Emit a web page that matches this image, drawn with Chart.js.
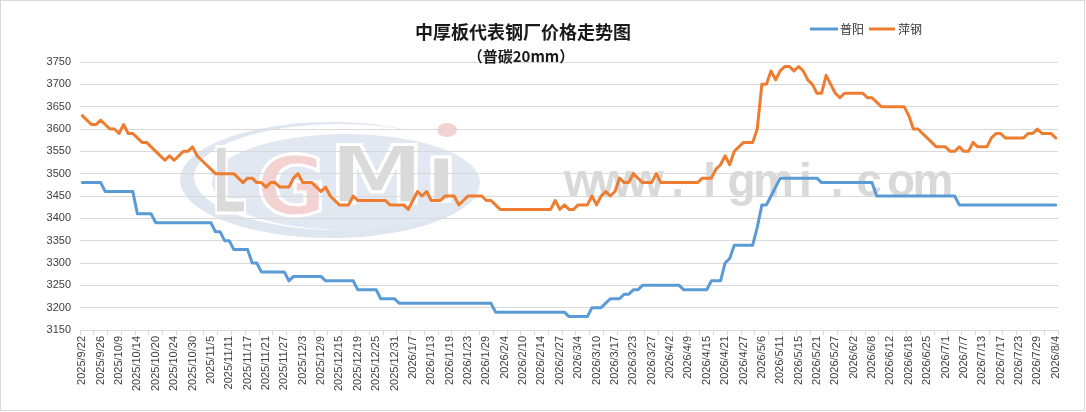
<!DOCTYPE html>
<html>
<head>
<meta charset="utf-8">
<script src="https://cdn.jsdelivr.net/npm/chart.js@4.4.1/dist/chart.umd.min.js"></script>
<style>
html,body{margin:0;padding:0;background:#fff;overflow:hidden}
#wrap{width:1086px;height:412px;position:relative}
</style>
</head>
<body>
<div id="wrap"><canvas id="c"></canvas></div>
<script>
const chartTitle = '中厚板代表钢厂价格走势图';
const chartSubtitle = '（普碳20mm）';
const seriesNames = ['普阳', '萍钢'];
const watermarkText = 'www.lgmi.com';

const tickDates = ['2025/9/22','2025/9/26','2025/10/9','2025/10/14','2025/10/20','2025/10/24','2025/10/30',
  '2025/11/5','2025/11/11','2025/11/17','2025/11/21','2025/11/27','2025/12/3','2025/12/9','2025/12/15',
  '2025/12/19','2025/12/25','2025/12/31','2026/1/7','2026/1/13','2026/1/19','2026/1/23','2026/1/29',
  '2026/2/4','2026/2/10','2026/2/14','2026/2/27','2026/3/4','2026/3/10','2026/3/17','2026/3/23','2026/3/27',
  '2026/4/2','2026/4/9','2026/4/15','2026/4/21','2026/4/27','2026/5/6','2026/5/11','2026/5/15','2026/5/21',
  '2026/5/27','2026/6/2','2026/6/8','2026/6/12','2026/6/18','2026/6/25','2026/7/1','2026/7/7','2026/7/13',
  '2026/7/17','2026/7/23','2026/7/29','2026/8/4'];
const pointsPerLabel = 4;

const puyang = [
  3480,3480,3480,3480,3480,3460,3460,3460,3460,3460,
  3460,3460,3410,3410,3410,3410,3390,3390,3390,3390,
  3390,3390,3390,3390,3390,3390,3390,3390,3390,3370,
  3370,3350,3350,3330,3330,3330,3330,3300,3300,3280,
  3280,3280,3280,3280,3280,3260,3270,3270,3270,3270,
  3270,3270,3270,3260,3260,3260,3260,3260,3260,3260,
  3240,3240,3240,3240,3240,3220,3220,3220,3220,3210,
  3210,3210,3210,3210,3210,3210,3210,3210,3210,3210,
  3210,3210,3210,3210,3210,3210,3210,3210,3210,3210,
  3190,3190,3190,3190,3190,3190,3190,3190,3190,3190,
  3190,3190,3190,3190,3190,3190,3180,3180,3180,3180,
  3180,3200,3200,3200,3210,3220,3220,3220,3230,3230,
  3240,3240,3250,3250,3250,3250,3250,3250,3250,3250,
  3250,3240,3240,3240,3240,3240,3240,3260,3260,3260,
  3300,3310,3340,3340,3340,3340,3340,3380,3430,3430,
  3450,3470,3490,3490,3490,3490,3490,3490,3490,3490,
  3490,3480,3480,3480,3480,3480,3480,3480,3480,3480,
  3480,3480,3480,3450,3450,3450,3450,3450,3450,3450,
  3450,3450,3450,3450,3450,3450,3450,3450,3450,3450,
  3450,3430,3430,3430,3430,3430,3430,3430,3430,3430,
  3430,3430,3430,3430,3430,3430,3430,3430,3430,3430,
  3430,3430,3430
];

const pinggang = [
  3630,3620,3610,3610,3620,3610,3600,3600,3590,3610,
  3590,3590,3580,3570,3570,3560,3550,3540,3530,3540,
  3530,3540,3550,3550,3560,3540,3530,3520,3510,3500,
  3500,3500,3500,3500,3490,3480,3490,3490,3480,3480,
  3470,3480,3480,3470,3470,3470,3490,3500,3480,3480,
  3480,3470,3460,3470,3450,3440,3430,3430,3430,3450,
  3440,3440,3440,3440,3440,3440,3440,3430,3430,3430,
  3430,3420,3440,3460,3450,3460,3440,3440,3440,3450,
  3450,3450,3430,3440,3450,3450,3450,3450,3440,3440,
  3430,3420,3420,3420,3420,3420,3420,3420,3420,3420,
  3420,3420,3420,3440,3420,3430,3420,3420,3430,3430,
  3430,3450,3430,3450,3460,3450,3460,3490,3480,3480,
  3500,3490,3480,3480,3480,3500,3480,3480,3480,3480,
  3480,3480,3480,3480,3480,3490,3490,3490,3510,3520,
  3540,3520,3550,3560,3570,3570,3570,3600,3700,3700,
  3730,3710,3730,3740,3740,3730,3740,3730,3710,3700,
  3680,3680,3720,3700,3680,3670,3680,3680,3680,3680,
  3680,3670,3670,3660,3650,3650,3650,3650,3650,3650,
  3630,3600,3600,3590,3580,3570,3560,3560,3560,3550,
  3550,3560,3550,3550,3570,3560,3560,3560,3580,3590,
  3590,3580,3580,3580,3580,3580,3590,3590,3600,3590,
  3590,3590,3580
];

const yMin = 3150, yMax = 3750, yStep = 50;

// category labels: one date every pointsPerLabel trading days
const labels = [];
tickDates.forEach((d, k) => {
  labels.push(d);
  if (k < tickDates.length - 1) for (let j = 1; j < pointsPerLabel; j++) labels.push('');
});

const decor = {
  id: 'decor',
  beforeDraw(chart) {
    const ctx = chart.ctx;
    ctx.save();
    // outer frame
    ctx.strokeStyle = '#d9d9d9';
    ctx.lineWidth = 1;
    ctx.strokeRect(0.5, 0.5, 1084, 410);
    // logo watermark
    ctx.fillStyle = '#dfe6ef';
    ctx.beginPath(); ctx.ellipse(331, 180, 151, 58, 0, 0, Math.PI * 2); ctx.fill();
    ctx.fillStyle = '#ffffff';
    ctx.beginPath(); ctx.ellipse(339, 177, 145, 53, 0, 0, Math.PI * 2); ctx.fill();
    ctx.fillStyle = '#e2e8f1';
    ctx.beginPath(); ctx.ellipse(346, 182, 134, 48, 0, 0, Math.PI * 2); ctx.fill();
    const letters = [
      {ch: 'L', x: 211, y: 213, size: 90, sx: 0.62, color: '#dadada'},
      {ch: 'G', x: 256, y: 215, size: 82, sx: 1.05, color: '#f5d2d2'},
      {ch: 'M', x: 329, y: 203, size: 80, sx: 1.2, color: '#dadada'},
      {ch: 'ı', x: 424, y: 201, size: 80, sx: 1.25, color: '#dadada'}
    ];
    letters.forEach(l => {
      ctx.save();
      ctx.translate(l.x, l.y);
      ctx.scale(l.sx, 1);
      ctx.font = 'bold ' + l.size + 'px "DejaVu Sans"';
      ctx.textBaseline = 'alphabetic';
      ctx.textAlign = 'left';
      ctx.lineWidth = 3;
      ctx.strokeStyle = '#ffffff';
      ctx.fillStyle = l.color;
      ctx.fillText(l.ch, 0, 0);
      ctx.strokeText(l.ch, 0, 0);
      ctx.restore();
    });
    ctx.fillStyle = '#f5d2d2';
    ctx.beginPath(); ctx.ellipse(447, 130, 10, 7, 0, 0, Math.PI * 2); ctx.fill();
    // site watermark
    ctx.font = 'bold 46px "Liberation Sans"';
    ctx.fillStyle = '#d9d9d9';
    ctx.textAlign = 'center';
    ctx.textBaseline = 'alphabetic';
    const chars = watermarkText.split('');
    chars.forEach((ch, i) => ctx.fillText(ch, 582 + i * 31.9, 196));
    ctx.restore();
  },
  afterDraw(chart) {
    const ctx = chart.ctx;
    ctx.save();
    ctx.fillStyle = '#1a1a1a';
    ctx.textAlign = 'center';
    ctx.textBaseline = 'middle';
    ctx.font = 'bold 18px "Noto Sans CJK SC"';
    ctx.fillText(chartTitle, 523, 32);
    ctx.font = 'bold 15px "Noto Sans CJK SC"';
    ctx.fillText(chartSubtitle, 521, 56);
    // legend
    const items = [{x0: 810, x1: 838, tx: 840}, {x0: 869, x1: 895, tx: 898}];
    chart.data.datasets.forEach((ds, i) => {
      const it = items[i];
      ctx.strokeStyle = ds.borderColor;
      ctx.lineWidth = 3;
      ctx.beginPath(); ctx.moveTo(it.x0, 29); ctx.lineTo(it.x1, 29); ctx.stroke();
      ctx.fillStyle = '#333333';
      ctx.textAlign = 'left';
      ctx.font = '12px "Noto Sans CJK SC"';
      ctx.fillText(ds.label, it.tx, 29);
    });
    ctx.restore();
  }
};

new Chart(document.getElementById('c'), {
  type: 'line',
  data: {
    labels: labels,
    datasets: [
      {label: seriesNames[0], data: puyang, borderColor: '#5B9BD5', backgroundColor: '#5B9BD5',
       borderWidth: 3, pointRadius: 0, tension: 0, borderJoinStyle: 'round', borderCapStyle: 'round', fill: false},
      {label: seriesNames[1], data: pinggang, borderColor: '#ED7D31', backgroundColor: '#ED7D31',
       borderWidth: 3, pointRadius: 0, tension: 0, borderJoinStyle: 'round', borderCapStyle: 'round', fill: false}
    ]
  },
  options: {
    responsive: true,
    maintainAspectRatio: false,
    animation: false,
    layout: {padding: {top: 62, right: 28, bottom: 0, left: 0}},
    plugins: {legend: {display: false}, title: {display: false}, tooltip: {enabled: false}},
    scales: {
      x: {
        type: 'category',
        offset: true,
        grid: {
          display: true, offset: true, drawOnChartArea: false, drawTicks: true, tickLength: 5, lineWidth: 1,
          color: c => (c.index === undefined || c.index % 3 === 0) ? '#d9d9d9' : 'rgba(0,0,0,0)'
        },
        border: {display: true, color: '#d9d9d9'},
        ticks: {autoSkip: false, minRotation: 90, maxRotation: 90, padding: 1,
          font: {size: 11, family: '"Liberation Sans"'}, color: '#404040'},
        afterFit: s => { s.height = 82; }
      },
      y: {
        min: yMin, max: yMax,
        ticks: {stepSize: yStep, padding: 9, font: {size: 11, family: '"Liberation Sans"'}, color: '#404040',
          callback: v => String(v)},
        grid: {color: '#d9d9d9', drawTicks: false},
        border: {display: false},
        afterFit: s => { s.width = 80; }
      }
    }
  },
  plugins: [decor]
});
</script>
</body>
</html>
